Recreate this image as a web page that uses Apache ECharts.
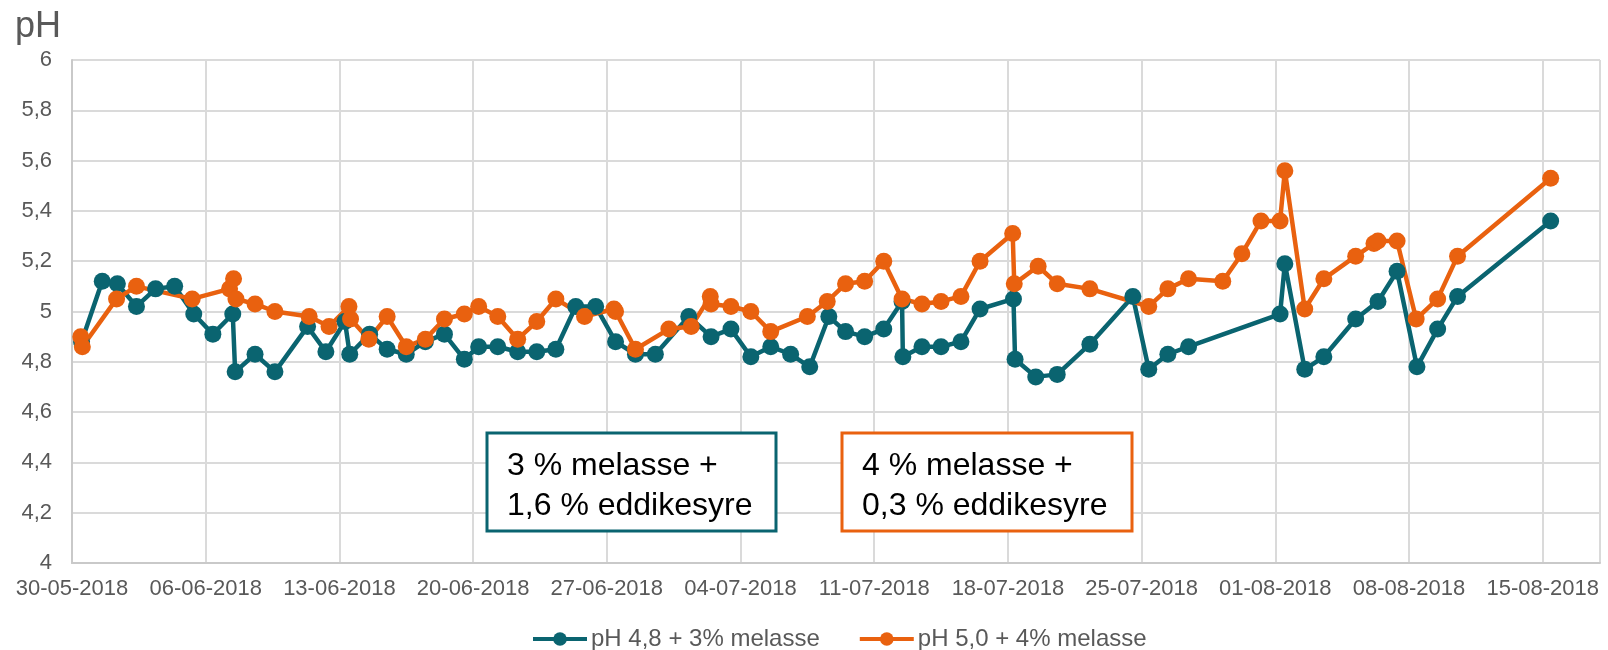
<!DOCTYPE html>
<html>
<head>
<meta charset="utf-8">
<script src="https://cdn.jsdelivr.net/npm/echarts@6/dist/echarts.min.js"></script>
<style>
  html, body { margin: 0; padding: 0; background: #fff; }
  #chart { width: 1608px; height: 650px; }
</style>
</head>
<body>
<div id="chart"></div>
<script>
// måletidspunkter og pH
const tealTimes = [
  "2018-05-30T12:00", "2018-05-31T14:00", "2018-06-01T09:00", "2018-06-02T09:00", "2018-06-03T09:00", "2018-06-04T09:00", "2018-06-05T09:00",
  "2018-06-06T09:00", "2018-06-07T10:00", "2018-06-07T13:00", "2018-06-08T14:00", "2018-06-09T15:00", "2018-06-11T08:00", "2018-06-12T07:00",
  "2018-06-13T07:00", "2018-06-13T13:00", "2018-06-14T14:00", "2018-06-15T12:00", "2018-06-16T12:00", "2018-06-17T12:00", "2018-06-18T12:00", "2018-06-19T13:00",
  "2018-06-20T07:00", "2018-06-21T07:00", "2018-06-22T08:00", "2018-06-23T08:00", "2018-06-24T08:00", "2018-06-25T09:00", "2018-06-26T10:00",
  "2018-06-27T11:00", "2018-06-28T12:00", "2018-06-29T13:00", "2018-07-01T07:00", "2018-07-02T11:00", "2018-07-03T12:00",
  "2018-07-04T13:00", "2018-07-05T14:00", "2018-07-06T15:00", "2018-07-07T15:00", "2018-07-08T15:00", "2018-07-09T12:00", "2018-07-10T12:00",
  "2018-07-11T12:00", "2018-07-12T11:00", "2018-07-12T12:00", "2018-07-13T12:00", "2018-07-14T12:00", "2018-07-15T13:00", "2018-07-16T13:00",
  "2018-07-18T07:00", "2018-07-18T09:00", "2018-07-19T11:00", "2018-07-20T14:00", "2018-07-22T07:00", "2018-07-24T13:00",
  "2018-07-25T09:00", "2018-07-26T09:00", "2018-07-27T11:00",
  "2018-08-01T06:00", "2018-08-01T12:00", "2018-08-02T13:00", "2018-08-03T13:00", "2018-08-05T05:00", "2018-08-06T09:00", "2018-08-07T09:00",
  "2018-08-08T10:00", "2018-08-09T12:00", "2018-08-10T13:00", "2018-08-15T10:00"
];
const tealPH = [
  4.88, 5.12, 5.11, 5.02, 5.09, 5.10, 4.99,
  4.91, 4.99, 4.76, 4.83, 4.76, 4.94, 4.84,
  4.96, 4.83, 4.91, 4.85, 4.83, 4.88, 4.91, 4.81,
  4.86, 4.86, 4.84, 4.84, 4.85, 5.02, 5.02,
  4.88, 4.83, 4.83, 4.98, 4.90, 4.93,
  4.82, 4.86, 4.83, 4.78, 4.98, 4.92, 4.90,
  4.93, 5.04, 4.82, 4.86, 4.86, 4.88, 5.01,
  5.05, 4.81, 4.74, 4.75, 4.87, 5.06,
  4.77, 4.83, 4.86,
  4.99, 5.19, 4.77, 4.82, 4.97, 5.04, 5.16,
  4.78, 4.93, 5.06, 5.36
];

const orangeTimes = [
  "2018-05-30T11:00", "2018-05-30T13:00", "2018-06-01T08:00", "2018-06-02T09:00", "2018-06-05T07:00",
  "2018-06-07T06:00", "2018-06-07T11:00", "2018-06-07T14:00", "2018-06-08T14:00", "2018-06-09T15:00", "2018-06-11T10:00", "2018-06-12T11:00",
  "2018-06-13T12:00", "2018-06-13T14:00", "2018-06-14T13:00", "2018-06-15T12:00", "2018-06-16T12:00", "2018-06-17T12:00", "2018-06-18T12:00", "2018-06-19T13:00",
  "2018-06-20T07:00", "2018-06-21T07:00", "2018-06-22T08:00", "2018-06-23T08:00", "2018-06-24T08:00", "2018-06-25T20:00",
  "2018-06-27T09:00", "2018-06-27T11:00", "2018-06-28T12:00", "2018-06-30T06:00", "2018-07-01T10:00", "2018-07-02T10:00", "2018-07-02T11:00", "2018-07-03T12:00",
  "2018-07-04T13:00", "2018-07-05T14:00", "2018-07-07T12:00", "2018-07-08T13:00", "2018-07-09T12:00", "2018-07-10T12:00",
  "2018-07-11T12:00", "2018-07-12T11:00", "2018-07-13T12:00", "2018-07-14T12:00", "2018-07-15T13:00", "2018-07-16T13:00",
  "2018-07-18T06:00", "2018-07-18T08:00", "2018-07-19T14:00", "2018-07-20T14:00", "2018-07-22T07:00",
  "2018-07-25T09:00", "2018-07-26T09:00", "2018-07-27T11:00", "2018-07-29T06:00", "2018-07-30T06:00", "2018-07-31T06:00",
  "2018-08-01T06:00", "2018-08-01T12:00", "2018-08-02T13:00", "2018-08-03T13:00", "2018-08-05T05:00", "2018-08-06T04:00", "2018-08-06T09:00", "2018-08-07T09:00",
  "2018-08-08T09:00", "2018-08-09T12:00", "2018-08-10T13:00", "2018-08-15T10:00"
];
const orangePH = [
  4.90, 4.86, 5.05, 5.10, 5.05,
  5.09, 5.13, 5.05, 5.03, 5.00, 4.98, 4.94,
  5.02, 4.97, 4.89, 4.98, 4.86, 4.89, 4.97, 4.99,
  5.02, 4.98, 4.89, 4.96, 5.05, 4.98,
  5.01, 5.00, 4.85, 4.93, 4.94, 5.06, 5.03, 5.02,
  5.00, 4.92, 4.98, 5.04, 5.11, 5.12,
  5.20, 5.05, 5.03, 5.04, 5.06, 5.20,
  5.31, 5.11, 5.18, 5.11, 5.09,
  5.02, 5.09, 5.13, 5.12, 5.23, 5.36,
  5.36, 5.56, 5.01, 5.13, 5.22, 5.27, 5.28, 5.28,
  4.97, 5.05, 5.22, 5.53
];

const seriesNames = ["pH 4,8 + 3% melasse", "pH 5,0 + 4% melasse"];
const boxTexts = ["3 % melasse +\n1,6 % eddikesyre", "4 % melasse +\n0,3 % eddikesyre"];

const TEAL = "#0a6470";
const ORANGE = "#e9610f";
const GREY = "#595959";
const FONT = '"Liberation Sans", Arial, sans-serif';

// x-aksen regnes i dager fra 30-05-2018
const startMs = Date.parse("2018-05-30T00:00");
const DAY = 86400000;
const toDay = t => (Date.parse(t) - startMs) / DAY;
const pad = n => (n < 10 ? "0" : "") + n;
const dayLabel = d => {
  const dt = new Date(startMs + Math.round(d) * DAY);
  return pad(dt.getDate()) + "-" + pad(dt.getMonth() + 1) + "-" + dt.getFullYear();
};

const tealData = tealTimes.map((t, i) => [toDay(t), tealPH[i]]);
const orangeData = orangeTimes.map((t, i) => [toDay(t), orangePH[i]]);

const chart = echarts.init(document.getElementById("chart"));

const lineSeries = (name, data, color) => ({
  name: name,
  type: "line",
  data: data,
  symbol: "circle",
  symbolSize: 17,
  showAllSymbol: true,
  lineStyle: { color: color, width: 4.5 },
  itemStyle: { color: color },
  emphasis: { disabled: true },
  animation: false
});

chart.setOption({
  animation: false,
  title: {
    text: "pH",
    left: 10,
    top: 4,
    textStyle: { fontSize: 36, fontWeight: "normal", color: GREY, fontFamily: FONT }
  },
  grid: { left: 72, right: 8, top: 60, bottom: 87, containLabel: false },
  xAxis: {
    type: "value",
    min: 0,
    max: 80,
    interval: 7,
    axisLine: { show: true, lineStyle: { color: "#c9c9c9", width: 2 } },
    axisTick: { show: false },
    splitLine: { show: true, lineStyle: { color: "#dadada", width: 2 } },
    axisLabel: {
      color: GREY,
      fontSize: 22,
      fontFamily: FONT,
      margin: 15,
      showMaxLabel: false,
      formatter: v => dayLabel(v)
    }
  },
  yAxis: {
    type: "value",
    min: 4,
    max: 6,
    interval: 0.2,
    axisLine: { show: true, lineStyle: { color: "#c9c9c9", width: 2 } },
    axisTick: { show: false },
    splitLine: { show: true, lineStyle: { color: "#dadada", width: 2 } },
    axisLabel: {
      color: GREY,
      fontSize: 22,
      fontFamily: FONT,
      margin: 20,
      formatter: v => String(+v.toFixed(1)).replace(".", ",")
    }
  },
  legend: {
    data: seriesNames,
    left: 531,
    top: 627,
    padding: 0,
    itemWidth: 54,
    itemHeight: 17,
    itemGap: 38,
    lineStyle: { width: 4 },
    textStyle: { color: GREY, fontSize: 24, fontFamily: FONT, padding: [0, 0, 0, -1] }
  },
  graphic: [
    {
      type: "rect",
      shape: { x: 487, y: 433, width: 289, height: 98 },
      style: { fill: "#fff", stroke: TEAL, lineWidth: 3 },
      z: 100
    },
    {
      type: "text",
      x: 507,
      y: 446,
      style: { text: boxTexts[0], fontSize: 32, fontFamily: FONT, fill: "#000", lineHeight: 40 },
      z: 101
    },
    {
      type: "rect",
      shape: { x: 842, y: 433, width: 290, height: 98 },
      style: { fill: "#fff", stroke: ORANGE, lineWidth: 3 },
      z: 100
    },
    {
      type: "text",
      x: 862,
      y: 446,
      style: { text: boxTexts[1], fontSize: 32, fontFamily: FONT, fill: "#000", lineHeight: 40 },
      z: 101
    }
  ],
  series: [
    lineSeries(seriesNames[0], tealData, TEAL),
    lineSeries(seriesNames[1], orangeData, ORANGE)
  ]
});
</script>
</body>
</html>
